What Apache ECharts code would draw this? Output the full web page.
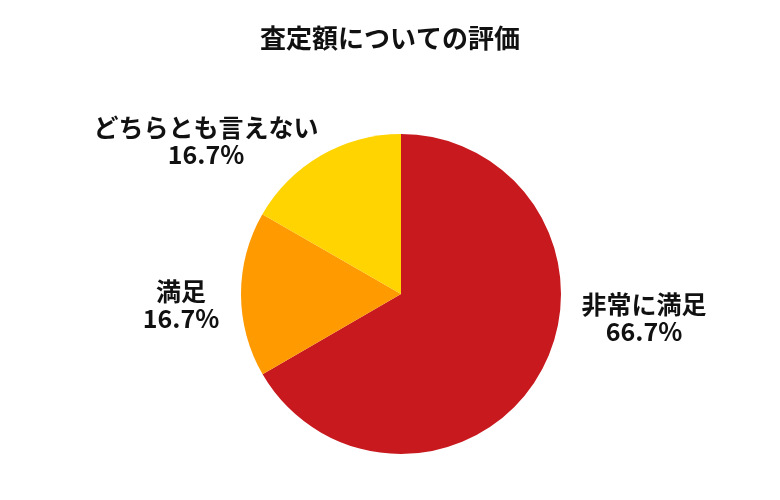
<!DOCTYPE html>
<html>
<head>
<meta charset="utf-8">
<script src="https://cdn.jsdelivr.net/npm/echarts@6/dist/echarts.min.js"></script>
<style>
  html, body { margin: 0; padding: 0; background: #fff; }
  #chart { width: 780px; height: 500px; }
</style>
</head>
<body>
<div id="chart"></div>
<script>
var titleText = '査定額についての評価';
var categories = ['非常に満足', '満足', 'どちらとも言えない'];
var values = [66.7, 16.7, 16.7];
var colors = ['#C8191E', '#FF9A00', '#FFD400'];

// where each label sits (center), as fraction of chart size
var labelSpots = [[644 / 780, 318 / 500], [181 / 780, 305 / 500], [206 / 780, 141 / 500]];

var myChart = echarts.init(document.getElementById('chart'));
var font = '"Noto Sans CJK JP", "Noto Sans", sans-serif';

var option = {
    color: colors,
    title: {
        text: titleText,
        left: 'center',
        top: 20,
        textStyle: { fontFamily: font, fontSize: 26, fontWeight: 'bold', color: '#111' }
    },
    series: [{
        type: 'pie',
        center: [401, 294],
        radius: 160,
        startAngle: 90,
        clockwise: true,
        silent: true,
        itemStyle: { borderWidth: 0 },
        label: {
            show: true,
            position: 'outside',
            formatter: function (p) { return p.name + '\n' + p.value.toFixed(1) + '%'; },
            fontFamily: font,
            fontSize: 25,
            fontWeight: 'bold',
            color: '#111',
            lineHeight: 27,
            align: 'center'
        },
        labelLine: { show: false },
        labelLayout: function (p) {
            var s = labelSpots[p.dataIndex];
            return {
                x: s[0] * myChart.getWidth(),
                y: s[1] * myChart.getHeight(),
                align: 'center',
                verticalAlign: 'middle'
            };
        },
        data: categories.map(function (c, i) {
            return { name: c, value: values[i] };
        })
    }]
};

myChart.setOption(option);
</script>
</body>
</html>
